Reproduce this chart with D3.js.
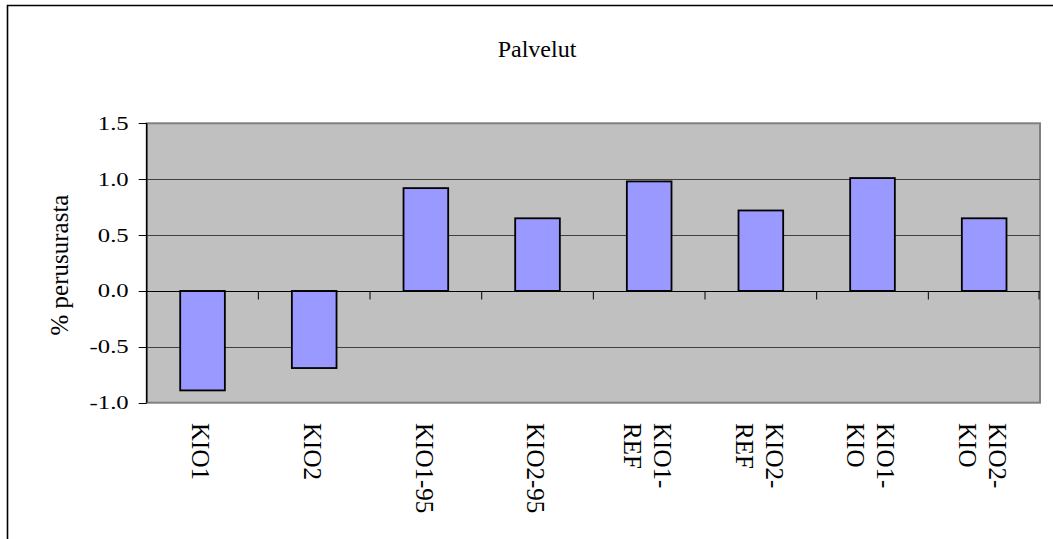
<!DOCTYPE html>
<html>
<head>
<meta charset="utf-8">
<script src="https://cdn.jsdelivr.net/npm/d3@7"></script>
<style>
  html, body { margin: 0; padding: 0; background: #fff; }
  svg { display: block; }
  text { font-family: "Liberation Serif", "Times New Roman", serif; fill: #000; }
</style>
</head>
<body>
<svg id="chart" width="1053" height="539"></svg>
<script>
// Service-sector change by scenario, % of baseline
const categories = ["KIO1", "KIO2", "KIO1-95", "KIO2-95", "KIO1-\nREF", "KIO2-\nREF", "KIO1-\nKIO", "KIO2-\nKIO"];
const values = [-0.89, -0.69, 0.92, 0.65, 0.98, 0.72, 1.01, 0.65];
const yTicks = [-1.0, -0.5, 0.0, 0.5, 1.0, 1.5];
const gridValues = [-0.5, 0.5, 1.0];
const title = "Palvelut";
const yTitle = "% perusurasta";

const svg = d3.select("#chart");

// Plot frame
const plot = { left: 146.7, right: 1040, top: 123.3, bottom: 402.7 };

const y = d3.scaleLinear().domain([-1.0, 1.5]).range([plot.bottom, plot.top]);
const x = d3.scaleBand().domain(categories).range([plot.left, plot.right])
  .paddingInner(0.6).paddingOuter(0.3);
const xCat = d3.scaleBand().domain(categories).range([plot.left, plot.right]).padding(0);

// Outer chart border (left and top edges visible)
svg.append("path")
  .attr("d", `M7.5,539 L7.5,5.5 L1053,5.5`)
  .attr("fill", "none").attr("stroke", "#000").attr("stroke-width", 1.6);

// Title
svg.append("text")
  .attr("x", 537).attr("y", 57)
  .attr("text-anchor", "middle")
  .style("font-size", "24px")
  .text(title);

// Plot background
svg.append("rect")
  .attr("x", plot.left).attr("y", plot.top)
  .attr("width", plot.right - plot.left).attr("height", plot.bottom - plot.top)
  .attr("fill", "#c0c0c0").attr("stroke", "#808080").attr("stroke-width", 2);

// Gridlines
svg.append("g").selectAll("line").data(gridValues).join("line")
  .attr("x1", plot.left).attr("x2", plot.right)
  .attr("y1", d => Math.round(y(d)) + 0.5).attr("y2", d => Math.round(y(d)) + 0.5)
  .attr("stroke", "#404040").attr("stroke-width", 1);

// Bars
svg.append("g").selectAll("rect").data(categories).join("rect")
  .attr("x", d => x(d))
  .attr("width", x.bandwidth())
  .attr("y", (d, i) => y(Math.max(0, values[i])))
  .attr("height", (d, i) => Math.abs(y(values[i]) - y(0)))
  .attr("fill", "#9999ff")
  .attr("stroke", "#000").attr("stroke-width", 1.8);

// Zero line with category ticks
const y0 = Math.round(y(0)) + 0.5;
svg.append("line")
  .attr("x1", plot.left).attr("x2", plot.right)
  .attr("y1", y0).attr("y2", y0)
  .attr("stroke", "#000").attr("stroke-width", 1.2);
const boundaries = categories.map(c => xCat(c)).slice(1).concat([plot.right - 1]);
svg.append("g").selectAll("line").data(boundaries).join("line")
  .attr("x1", d => d).attr("x2", d => d)
  .attr("y1", y0).attr("y2", y0 + 8)
  .attr("stroke", "#000").attr("stroke-width", 1);

// Y axis line and ticks
svg.append("line")
  .attr("x1", plot.left).attr("x2", plot.left)
  .attr("y1", plot.top).attr("y2", plot.bottom)
  .attr("stroke", "#000").attr("stroke-width", 1.4);
// One decimal, plain hyphen for negatives
const fmt = d => d.toFixed(1);
const yAxis = svg.append("g");
yAxis.selectAll("line").data(yTicks).join("line")
  .attr("x1", plot.left - 8).attr("x2", plot.left)
  .attr("y1", d => Math.round(y(d)) + 0.5).attr("y2", d => Math.round(y(d)) + 0.5)
  .attr("stroke", "#000").attr("stroke-width", 1);
yAxis.selectAll("text").data(yTicks).join("text")
  .attr("transform", d => `translate(${plot.left - 18},${y(d) + 6.5}) scale(1.3,1)`)
  .attr("text-anchor", "end")
  .style("font-size", "19px")
  .text(d => fmt(d));

// Y axis title
svg.append("text")
  .attr("transform", `translate(68,${(plot.top + plot.bottom) / 2 + 2}) rotate(-90)`)
  .attr("text-anchor", "middle")
  .style("font-size", "25px")
  .text(yTitle);

// Category labels, rotated to read downward
const labels = svg.append("g").selectAll("text").data(categories).join("text")
  .attr("transform", d => `translate(${xCat(d) + xCat.bandwidth() / 2 - 2},423) rotate(90)`)
  .attr("text-anchor", "start")
  .style("font-size", "25px");
labels.each(function(d) {
  const lines = d.split("\n");
  const t = d3.select(this);
  const first = 0.33 - (lines.length - 1) * 0.6;
  lines.forEach((ln, i) => {
    t.append("tspan")
      .attr("x", 0)
      .attr("y", 0)
      .attr("dy", `${first + i * 1.2}em`)
      .text(ln);
  });
});
</script>
</body>
</html>
